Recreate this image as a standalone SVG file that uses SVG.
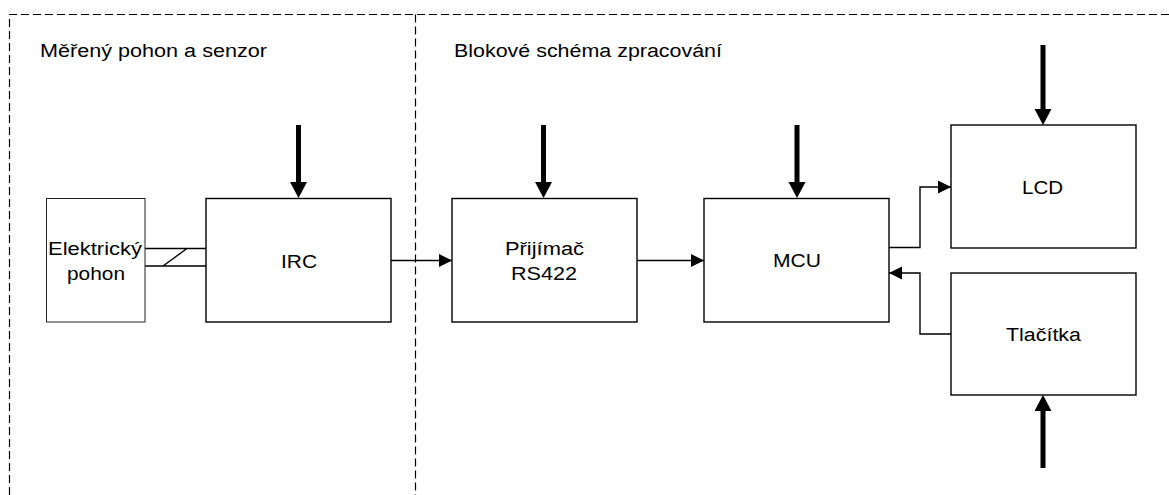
<svg xmlns="http://www.w3.org/2000/svg" width="1169" height="495" viewBox="0 0 1169 495">
<style>
.box{fill:#fff;stroke:#000;stroke-width:1.4}
.box2{fill:#fff;stroke:#222;stroke-width:1}
.lbl{font-family:"Liberation Sans",Arial,sans-serif;font-size:18px;fill:#000;text-anchor:middle}
.title{font-family:"Liberation Sans",Arial,sans-serif;font-size:18px;fill:#000}
.dash{fill:none;stroke:#000;stroke-width:1.2;stroke-dasharray:8,4}
.thin{fill:none;stroke:#000;stroke-width:1.4}
.thick{fill:none;stroke:#000;stroke-width:5}
</style>
<defs>
<marker id="ah" markerUnits="userSpaceOnUse" markerWidth="14" markerHeight="14" refX="13" refY="6.5" orient="auto">
<path d="M0,0 L13,6.5 L0,13 z" fill="#000"/>
</marker>
<marker id="ahb" markerUnits="userSpaceOnUse" markerWidth="18" markerHeight="18" refX="8" refY="8.5" orient="auto">
<path d="M0,0 L16,8.5 L0,17 z" fill="#000"/>
</marker>
</defs>
<rect width="1169" height="495" fill="#fff"/>
<g id="frames">
<path class="dash" d="M9.5,495 L9.5,14.5 L1169,14.5"/>
<path class="dash" d="M415.5,14.5 L415.5,495"/>
<text class="title" x="40" y="57" textLength="227" lengthAdjust="spacingAndGlyphs">Měřený pohon a senzor</text>
<text class="title" x="454" y="57" textLength="268" lengthAdjust="spacingAndGlyphs">Blokové schéma zpracování</text>
</g>
<g id="connectors">
<path class="thin" d="M145,248.5 L206,248.5 M145,266 L206,266 M163,266 L187,248.5"/>
<path class="thin" d="M391,260.5 L452,260.5" marker-end="url(#ah)"/>
<path class="thin" d="M637,260.5 L704,260.5" marker-end="url(#ah)"/>
<path class="thin" d="M889,247.5 L920,247.5 L920,187 L951,187" marker-end="url(#ah)"/>
<path class="thin" d="M951,334 L920,334 L920,273 L889,273" marker-end="url(#ah)"/>
<path class="thick" d="M298.5,125 L298.5,190" marker-end="url(#ahb)"/>
<path class="thick" d="M543.5,125 L543.5,190" marker-end="url(#ahb)"/>
<path class="thick" d="M797,125 L797,190" marker-end="url(#ahb)"/>
<path class="thick" d="M1043,45 L1043,117" marker-end="url(#ahb)"/>
<path class="thick" d="M1043,468 L1043,403" marker-end="url(#ahb)"/>
</g>
<g id="pohon">
<rect class="box2" x="46.5" y="198.5" width="98.5" height="123.5"/>
<text class="lbl" x="95" y="255" textLength="94" lengthAdjust="spacingAndGlyphs">Elektrický</text>
<text class="lbl" x="96" y="280" textLength="58" lengthAdjust="spacingAndGlyphs">pohon</text>
</g>
<g id="irc">
<rect class="box" x="206" y="198.5" width="185" height="123.5"/>
<text class="lbl" x="299" y="268" textLength="36" lengthAdjust="spacingAndGlyphs">IRC</text>
</g>
<g id="prijimac">
<rect class="box" x="452" y="198.5" width="185" height="123.5"/>
<text class="lbl" x="544.5" y="255" textLength="79" lengthAdjust="spacingAndGlyphs">Přijímač</text>
<text class="lbl" x="544" y="280" textLength="66" lengthAdjust="spacingAndGlyphs">RS422</text>
</g>
<g id="mcu">
<rect class="box" x="704" y="198.5" width="185" height="123.5"/>
<text class="lbl" x="797" y="267" textLength="48" lengthAdjust="spacingAndGlyphs">MCU</text>
</g>
<g id="lcd">
<rect class="box" x="951" y="125" width="185" height="123"/>
<text class="lbl" x="1042.5" y="194" textLength="41" lengthAdjust="spacingAndGlyphs">LCD</text>
</g>
<g id="tlacitka">
<rect class="box" x="951" y="273" width="185" height="122"/>
<text class="lbl" x="1043.5" y="341" textLength="75" lengthAdjust="spacingAndGlyphs">Tlačítka</text>
</g>
</svg>
